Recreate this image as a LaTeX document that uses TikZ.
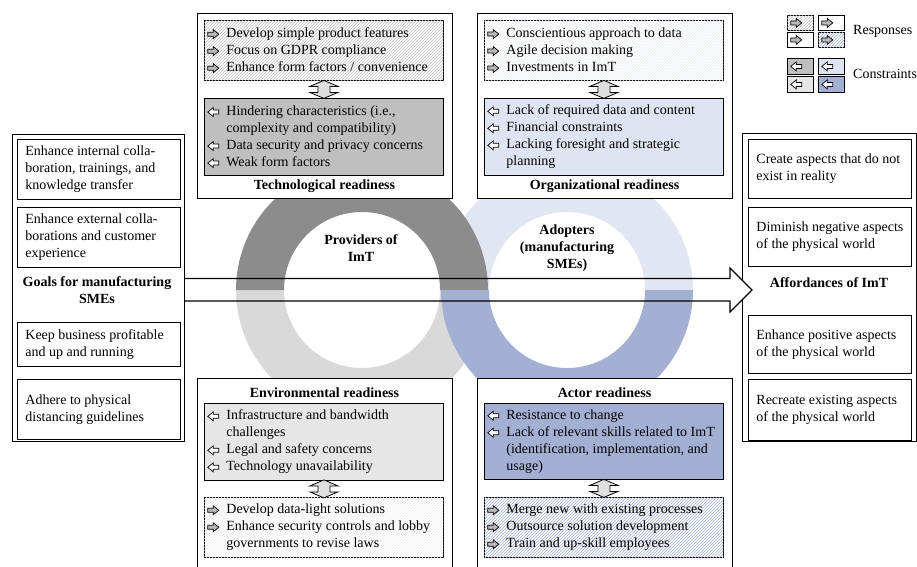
\documentclass[tikz,border=0pt]{standalone}
\usepackage{fontspec}
\setmainfont{Liberation Serif}
\usetikzlibrary{patterns,calc}

\definecolor{techring}{HTML}{8C8C8C}
\definecolor{envring}{HTML}{D9D9D9}
\definecolor{orgring}{HTML}{E1E6F3}
\definecolor{actring}{HTML}{A3B0D3}
\definecolor{techcons}{HTML}{BFBFBF}
\definecolor{orgcons}{HTML}{DFE4F2}
\definecolor{envcons}{HTML}{E6E6E6}
\definecolor{actcons}{HTML}{A3B0D3}

% small block arrows used as bullets
\newcommand{\respicon}{\tikz[x=1pt,y=1pt,baseline=0.5pt,line join=miter]\draw[fill=gray!55,line width=0.7pt] (0,2)--(5.5,2)--(5.5,-0.5)--(11,4)--(5.5,8.5)--(5.5,6)--(0,6)--cycle;}
\newcommand{\consicon}{\tikz[x=1pt,y=1pt,baseline=0.5pt,line join=miter]\draw[fill=white,line width=0.7pt] (11,2)--(5.5,2)--(5.5,-0.5)--(0,4)--(5.5,8.5)--(5.5,6)--(11,6)--cycle;}
\newcommand{\rbul}{\makebox[19pt][l]{\respicon}}
\newcommand{\cbul}{\makebox[19pt][l]{\consicon}}
\newcommand{\contline}{\hspace*{19pt}}
% text blocks, broken only where the picture breaks them
\newcommand{\boxlines}[1]{\makebox[233pt][l]{\parbox{260pt}{\raggedright #1}}}
\newcommand{\sidelines}[1]{\makebox[147pt][l]{\parbox{170pt}{\raggedright #1}}}

\begin{document}
\begin{tikzpicture}[line cap=round,line join=miter,x=1pt,y=-1pt,
  every node/.style={font=\fontsize{14}{17}\selectfont},
  frame/.style={draw,line width=1.1pt,fill=white,anchor=north west,inner sep=0pt},
  itembox/.style={draw,line width=0.8pt,anchor=north west,inner xsep=3pt,inner ysep=0pt,minimum width=239pt},
  sidebox/.style={draw,line width=0.8pt,fill=white,anchor=north west,inner xsep=8pt,inner ysep=0pt,minimum width=163pt},
  heading/.style={font=\fontsize{14}{17}\selectfont\bfseries,align=center},
  lgbox/.style={draw,line width=0.8pt,anchor=north west,minimum width=26pt,inner sep=0pt},
  hatch/.style={fill=white,postaction={pattern=north east lines,pattern color=#1}},
  dblarrow/.pic={\draw[fill=gray!25,line width=0.8pt] (0,-9)--(14,-3)--(6,-3)--(6,3)--(14,3)--(0,9)--(-14,3)--(-6,3)--(-6,-3)--(-14,-3)--cycle;}]
\useasboundingbox (0,0) rectangle (917,566);
\clip (0,0) rectangle (917,566);

% affordances
\node[frame,minimum width=174pt,minimum height=308pt] (affframe) at (742,133) {};
\node[sidebox,minimum height=59pt] (aff1) at (748,139) {\sidelines{Create aspects that do not\\exist in reality}};
\node[sidebox,minimum height=59pt] (aff2) at (748,207) {\sidelines{Diminish negative aspects\\of the physical world}};
\node[heading] (afftitle) at (829,283) {Affordances of ImT};
\node[sidebox,minimum height=58pt] (aff3) at (748,315) {\sidelines{Enhance positive aspects\\of the physical world}};
\node[sidebox,minimum height=61pt] (aff4) at (748,379) {\sidelines{Recreate existing aspects\\of the physical world}};

% big arrow, fill first
\fill[white] (184,278.5) -- (730,278.5) -- (730,268) -- (752,290) -- (730,312) -- (730,301) -- (184,301) -- cycle;

% rings
\fill[envring] (236,290) arc[start angle=180,delta angle=-180,radius=126] -- (440,290) arc[start angle=0,delta angle=180,radius=78] -- cycle;
\fill[orgring] (441,290) arc[start angle=180,delta angle=180,radius=126] -- (645,290) arc[start angle=360,delta angle=-180,radius=78] -- cycle;
\fill[techring] (236,290) arc[start angle=180,delta angle=180,radius=126] -- (440,290) arc[start angle=360,delta angle=-180,radius=78] -- cycle;
\fill[actring] (441,290) arc[start angle=180,delta angle=-180,radius=126] -- (645,290) arc[start angle=0,delta angle=180,radius=78] -- cycle;

\draw[line width=1.1pt] (184,278.5) -- (730,278.5) -- (730,268) -- (752,290) -- (730,312) -- (730,301) -- (184,301);

% goals
\node[frame,minimum width=172pt,minimum height=307pt] (goalframe) at (12,134) {};
\node[sidebox,minimum height=60pt] (goal1) at (17,139) {\sidelines{Enhance internal colla-\\boration, trainings, and\\knowledge transfer}};
\node[sidebox,minimum height=60pt] (goal2) at (17,207) {\sidelines{Enhance external colla-\\borations and customer\\experience}};
\node[heading] (goaltitle) at (97,290) {Goals for manufacturing\\SMEs};
\node[sidebox,minimum height=44pt] (goal3) at (17,322) {\sidelines{Keep business profitable\\and up and running}};
\node[sidebox,minimum height=60pt] (goal4) at (17,379) {\sidelines{Adhere to physical\\distancing guidelines}};

% technological readiness
\node[frame,minimum width=255pt,minimum height=185.5pt] (techframe) at (197,12.7) {};
\node[itembox,minimum height=60pt,hatch=gray!50] (techresp) at (204,20) {\boxlines{\rbul Develop simple product features\\\rbul Focus on GDPR compliance\\\rbul Enhance form factors / convenience}};
\node[itembox,minimum height=77pt,fill=techcons] (techcons) at (204,98) {\boxlines{\cbul Hindering characteristics (i.e.,\\\contline complexity and compatibility)\\\cbul Data security and privacy concerns\\\cbul Weak form factors}};
\pic at ($(techresp.south)!0.5!(techcons.north)$) {dblarrow};
\node[heading] (techtitle) at (324.5,186.5) {Technological readiness};

% organizational readiness
\node[frame,minimum width=255pt,minimum height=185.5pt] (orgframe) at (477,12.7) {};
\node[itembox,minimum height=60pt,hatch=orgring!70] (orgresp) at (484,20) {\boxlines{\rbul Conscientious approach to data\\\rbul Agile decision making\\\rbul Investments in ImT}};
\node[itembox,minimum height=77pt,fill=orgcons] (orgcons) at (484,98) {\boxlines{\cbul Lack of required data and content\\\cbul Financial constraints\\\cbul Lacking foresight and strategic\\\contline planning}};
\pic at ($(orgresp.south)!0.5!(orgcons.north)$) {dblarrow};
\node[heading] (orgtitle) at (604.5,186.5) {Organizational readiness};

% environmental readiness
\node[frame,minimum width=255pt,minimum height=200pt] (envframe) at (197,378) {};
\node[heading] (envtitle) at (324.5,393) {Environmental readiness};
\node[itembox,minimum height=77pt,fill=envcons] (envcons) at (204,403) {\boxlines{\cbul Infrastructure and bandwidth\\\contline challenges\\\cbul Legal and safety concerns\\\cbul Technology unavailability}};
\node[itembox,minimum height=60pt,hatch=gray!12] (envresp) at (204,497) {\boxlines{\rbul Develop data-light solutions\\\rbul Enhance security controls and lobby\\\contline governments to revise laws}};
\pic at ($(envcons.south)!0.5!(envresp.north)$) {dblarrow};

% actor readiness
\node[frame,minimum width=255pt,minimum height=200pt] (actframe) at (477,378) {};
\node[heading] (acttitle) at (604.5,393) {Actor readiness};
\node[itembox,minimum height=76pt,fill=actcons] (actcons) at (484,403) {\boxlines{\cbul Resistance to change\\\cbul Lack of relevant skills related to ImT\\\contline (identification, implementation, and\\\contline usage)}};
\node[itembox,minimum height=60pt,hatch=actring] (actresp) at (484,497) {\boxlines{\rbul Merge new with existing processes\\\rbul Outsource solution development\\\rbul Train and up-skill employees}};
\pic at ($(actcons.south)!0.5!(actresp.north)$) {dblarrow};

% ring labels
\node[heading] (provlabel) at (361,248) {Providers of\\ImT};
\node[heading] (adoptlabel) at (567,248) {Adopters\\(manufacturing\\SMEs)};

% legend
\node[lgbox,minimum height=15pt,hatch=gray!50] (lgtech) at (787,15) {\makebox[20pt][l]{\respicon}};
\node[lgbox,minimum height=15pt,fill=white] (lgorg) at (818,15) {\makebox[20pt][l]{\respicon}};
\node[lgbox,minimum height=15pt,fill=white] (lgenv) at (787,32) {\makebox[20pt][l]{\respicon}};
\node[lgbox,minimum height=15pt,hatch=actring] (lgact) at (818,32) {\makebox[20pt][l]{\respicon}};
\node[anchor=west,inner sep=1pt] (lgresp) at (852,31) {Responses};
\node[lgbox,minimum height=16pt,fill=techcons] (lgtechc) at (787,58) {\makebox[20pt][l]{\consicon}};
\node[lgbox,minimum height=16pt,fill=orgcons] (lgorgc) at (818,58) {\makebox[20pt][l]{\consicon}};
\node[lgbox,minimum height=16pt,fill=envcons] (lgenvc) at (787,76) {\makebox[20pt][l]{\consicon}};
\node[lgbox,minimum height=16pt,fill=actcons] (lgactc) at (818,76) {\makebox[20pt][l]{\consicon}};
\node[anchor=west,inner sep=1pt] (lgcons) at (852,74) {Constraints};
\end{tikzpicture}
\end{document}
